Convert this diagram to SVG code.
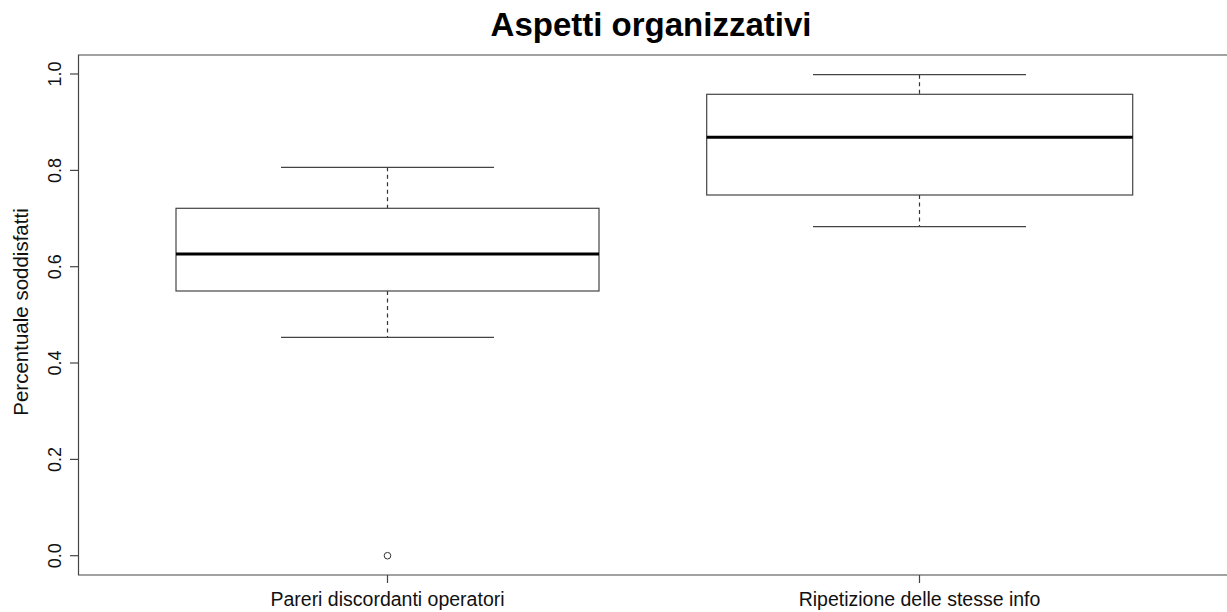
<svg xmlns="http://www.w3.org/2000/svg" width="1227" height="612" viewBox="0 0 1227 612">
  <style>
    .frame { fill: none; stroke: #444; stroke-width: 1.2; }
    .tick { stroke: #444; stroke-width: 1.2; }
    .box { fill: #fff; stroke: #444; stroke-width: 1.2; }
    .cap { stroke: #444; stroke-width: 1.2; }
    .whisk { stroke: #333; stroke-width: 1.2; stroke-dasharray: 4 3.5; }
    .med { stroke: #000; stroke-width: 3; }
    .out { fill: none; stroke: #333; stroke-width: 1; }
    .title { font-family: "Liberation Sans", Arial, sans-serif; font-weight: bold; font-size: 33px; fill: #000; }
    .lab { font-family: "Liberation Sans", Arial, sans-serif; font-size: 19.5px; fill: #111; }
    .ylab { font-family: "Liberation Sans", Arial, sans-serif; font-size: 20.5px; fill: #111; }
    .ticklab { font-family: "Liberation Sans", Arial, sans-serif; font-size: 18px; fill: #111; }
  </style>
  <rect width="1227" height="612" fill="#fff"/>

  <text class="title" x="651" y="36" text-anchor="middle">Aspetti organizzativi</text>

  <!-- plot frame (right edge falls outside the canvas) -->
  <g id="frame">
    <polyline class="frame" points="1227,55 78.5,55 78.5,575 1227,575"/>
  </g>

  <!-- y axis: ticks and labels -->
  <g id="y-axis">
    <line class="tick" x1="70" y1="555.7" x2="78.5" y2="555.7"/>
    <line class="tick" x1="70" y1="459.4" x2="78.5" y2="459.4"/>
    <line class="tick" x1="70" y1="363" x2="78.5" y2="363"/>
    <line class="tick" x1="70" y1="266.7" x2="78.5" y2="266.7"/>
    <line class="tick" x1="70" y1="170.4" x2="78.5" y2="170.4"/>
    <line class="tick" x1="70" y1="74" x2="78.5" y2="74"/>
    <text class="ticklab" transform="translate(60.5,555.7) rotate(-90)" text-anchor="middle">0.0</text>
    <text class="ticklab" transform="translate(60.5,459.4) rotate(-90)" text-anchor="middle">0.2</text>
    <text class="ticklab" transform="translate(60.5,363) rotate(-90)" text-anchor="middle">0.4</text>
    <text class="ticklab" transform="translate(60.5,266.7) rotate(-90)" text-anchor="middle">0.6</text>
    <text class="ticklab" transform="translate(60.5,170.4) rotate(-90)" text-anchor="middle">0.8</text>
    <text class="ticklab" transform="translate(60.5,74) rotate(-90)" text-anchor="middle">1.0</text>
    <text class="ylab" transform="translate(27.5,312) rotate(-90)" text-anchor="middle">Percentuale soddisfatti</text>
  </g>

  <!-- x axis: ticks and category labels -->
  <g id="x-axis">
    <line class="tick" x1="387.5" y1="575" x2="387.5" y2="583"/>
    <line class="tick" x1="919.5" y1="575" x2="919.5" y2="583"/>
    <text class="lab" x="387.5" y="606" text-anchor="middle">Pareri discordanti operatori</text>
    <text class="lab" x="919.5" y="606" text-anchor="middle">Ripetizione delle stesse info</text>
  </g>

  <!-- box for "Pareri discordanti operatori" -->
  <g id="box-pareri">
    <line class="whisk" x1="387.5" y1="167.3" x2="387.5" y2="208.3"/>
    <line class="whisk" x1="387.5" y1="291" x2="387.5" y2="337.3"/>
    <line class="cap" x1="281" y1="167.3" x2="494" y2="167.3"/>
    <line class="cap" x1="281" y1="337.3" x2="494" y2="337.3"/>
    <rect class="box" x="176" y="208.3" width="423" height="82.7"/>
    <line class="med" x1="176" y1="254" x2="599" y2="254"/>
    <circle class="out" cx="387.5" cy="555.7" r="3.3"/>
  </g>

  <!-- box for "Ripetizione delle stesse info" -->
  <g id="box-ripetizione">
    <line class="whisk" x1="919.5" y1="74.7" x2="919.5" y2="94.3"/>
    <line class="whisk" x1="919.5" y1="195" x2="919.5" y2="226.7"/>
    <line class="cap" x1="813" y1="74.7" x2="1026" y2="74.7"/>
    <line class="cap" x1="813" y1="226.7" x2="1026" y2="226.7"/>
    <rect class="box" x="706.7" y="94.3" width="426" height="100.7"/>
    <line class="med" x1="706.7" y1="137.3" x2="1132.7" y2="137.3"/>
  </g>
</svg>
